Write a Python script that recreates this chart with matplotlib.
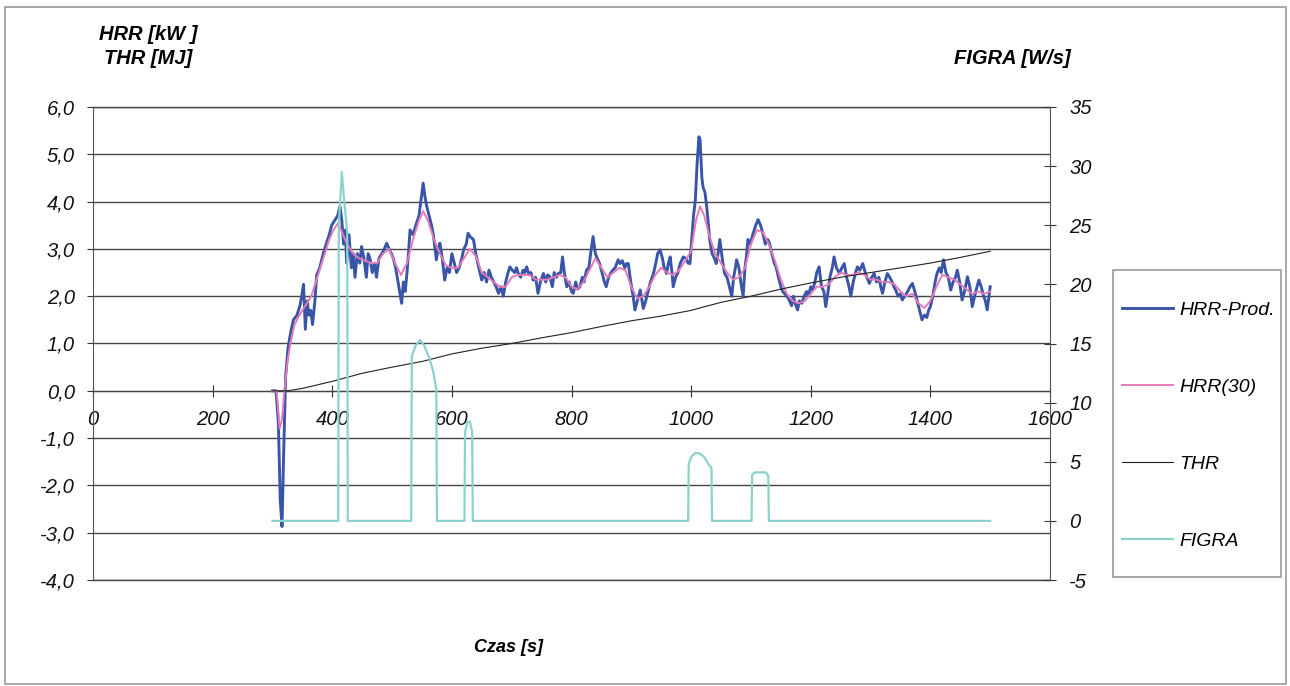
import numpy as np
import matplotlib
matplotlib.use("Agg")
import matplotlib.pyplot as plt
from matplotlib.ticker import FuncFormatter, MultipleLocator
from matplotlib.patches import Rectangle

plt.rcParams['font.family'] = ['Liberation Sans', 'DejaVu Sans']

# HRR-Prod. [kW] (blue, left axis)
t_hrr = [300, 306, 310, 313, 316, 319, 322, 326, 330, 335, 341, 346, 349, 352, 355, 358, 361, 364, 367, 371,
         374, 379, 385, 391, 395, 399, 404, 409, 413, 416, 419, 422, 424, 428, 432, 435, 438, 442, 446, 449,
         453, 457, 460, 463, 467, 471, 474, 478, 483, 487, 491, 495, 499, 502, 506, 510, 514, 516, 519, 522,
         525, 528, 530, 535, 541, 545, 549, 552, 555, 558, 562, 566, 569, 572, 574, 577, 580, 584, 588, 592,
         596, 600, 604, 608, 612, 616, 620, 624, 627, 631, 636, 640, 645, 650, 654, 658, 662, 666, 670, 674,
         678, 682, 686, 690, 694, 697, 701, 705, 708, 711, 715, 719, 722, 725, 729, 732, 736, 740, 744, 748,
         753, 757, 760, 764, 768, 771, 775, 778, 782, 785, 788, 792, 796, 800, 803, 807, 810, 814, 818, 821,
         825, 829, 832, 836, 840, 843, 847, 851, 855, 858, 862, 866, 869, 873, 878, 881, 885, 889, 892, 895,
         899, 903, 906, 910, 915, 920, 924, 928, 932, 937, 941, 944, 948, 952, 955, 959, 962, 965, 968, 970,
         974, 978, 982, 987, 991, 995, 998, 1001, 1004, 1007, 1010, 1013, 1015, 1018, 1020, 1023, 1026, 1029, 1031, 1035,
         1039, 1042, 1045, 1048, 1051, 1053, 1056, 1060, 1064, 1068, 1071, 1074, 1076, 1080, 1083, 1087, 1090, 1093, 1095, 1099,
         1103, 1108, 1112, 1116, 1120, 1124, 1128, 1131, 1135, 1139, 1142, 1146, 1150, 1153, 1156, 1160, 1164, 1168, 1171, 1174,
         1178, 1181, 1185, 1189, 1193, 1196, 1200, 1203, 1207, 1210, 1214, 1218, 1222, 1225, 1229, 1232, 1236, 1239, 1243, 1248,
         1252, 1256, 1260, 1264, 1267, 1271, 1275, 1278, 1282, 1287, 1291, 1294, 1298, 1302, 1306, 1310, 1314, 1317, 1320, 1324,
         1328, 1332, 1336, 1339, 1342, 1346, 1350, 1353, 1357, 1362, 1366, 1370, 1374, 1378, 1382, 1386, 1390, 1394, 1397, 1400,
         1404, 1408, 1411, 1415, 1418, 1422, 1426, 1430, 1434, 1438, 1442, 1445, 1449, 1453, 1457, 1462, 1466, 1470, 1474, 1478,
         1481, 1485, 1489, 1492, 1495, 1498, 1500]
hrr_prod = [0, 0, -0.7, -2.3, -2.87, -1.2, 0.3, 0.9, 1.2, 1.5, 1.6, 1.8, 2.0, 2.25, 1.3, 1.9, 1.6, 1.7, 1.4, 1.9,
            2.45, 2.6, 2.9, 3.15, 3.3, 3.5, 3.6, 3.7, 3.9, 3.6, 3.1, 3.4, 2.7, 3.3, 2.6, 2.9, 2.4, 2.9, 2.7, 3.05,
            2.8, 2.4, 2.9, 2.8, 2.5, 2.7, 2.4, 2.8, 2.9, 3.0, 3.12, 3.0, 2.9, 2.8, 2.6, 2.3, 2.0, 1.85, 2.3, 2.1,
            2.5, 3.0, 3.4, 3.3, 3.55, 3.7, 4.1, 4.39, 4.1, 3.9, 3.7, 3.5, 3.3, 3.0, 2.77, 3.0, 3.12, 2.8, 2.34, 2.6,
            2.5, 2.9, 2.7, 2.5, 2.6, 2.77, 3.0, 3.1, 3.33, 3.25, 3.2, 2.9, 2.6, 2.34, 2.5, 2.3, 2.55, 2.4, 2.3, 2.2,
            2.06, 2.2, 2.0, 2.3, 2.5, 2.62, 2.55, 2.5, 2.6, 2.48, 2.4, 2.55, 2.5, 2.62, 2.45, 2.5, 2.34, 2.4, 2.06, 2.3,
            2.48, 2.3, 2.45, 2.41, 2.2, 2.5, 2.4, 2.48, 2.5, 2.83, 2.5, 2.2, 2.3, 2.1, 2.06, 2.3, 2.15, 2.2, 2.4, 2.3,
            2.55, 2.6, 2.9, 3.26, 2.9, 2.8, 2.69, 2.5, 2.3, 2.2, 2.4, 2.5, 2.55, 2.6, 2.77, 2.69, 2.75, 2.6, 2.69, 2.69,
            2.3, 2.0, 1.71, 1.9, 2.13, 1.74, 1.9, 2.1, 2.3, 2.48, 2.7, 2.9, 2.98, 2.8, 2.6, 2.48, 2.7, 2.83, 2.5, 2.2,
            2.4, 2.5, 2.7, 2.83, 2.8, 2.7, 2.69, 3.2, 3.7, 4.03, 4.8, 5.37, 5.3, 4.5, 4.3, 4.2, 3.9, 3.5, 3.2, 2.9,
            2.8, 2.69, 2.9, 3.2, 2.9, 2.7, 2.48, 2.4, 2.2, 2.0, 2.4, 2.6, 2.77, 2.6, 2.3, 2.0, 2.6, 2.9, 3.2, 3.1,
            3.3, 3.5, 3.62, 3.5, 3.33, 3.1, 3.2, 3.12, 2.9, 2.7, 2.62, 2.4, 2.2, 2.1, 2.06, 2.0, 1.92, 1.8, 2.0, 1.85,
            1.71, 1.9, 1.85, 2.0, 2.1, 2.0, 2.2, 2.13, 2.3, 2.5, 2.62, 2.2, 2.1, 1.78, 2.1, 2.4, 2.6, 2.83, 2.6, 2.48,
            2.6, 2.69, 2.4, 2.2, 2.0, 2.3, 2.5, 2.62, 2.55, 2.69, 2.5, 2.4, 2.27, 2.4, 2.48, 2.3, 2.4, 2.2, 2.06, 2.3,
            2.48, 2.4, 2.3, 2.2, 2.13, 2.0, 2.05, 1.92, 2.0, 2.1, 2.2, 2.27, 2.1, 1.9, 1.7, 1.5, 1.6, 1.55, 1.7, 1.78,
            2.0, 2.3, 2.48, 2.6, 2.5, 2.77, 2.5, 2.4, 2.13, 2.3, 2.4, 2.55, 2.3, 1.92, 2.1, 2.41, 2.2, 1.78, 2.0, 2.2,
            2.34, 2.2, 2.0, 1.9, 1.71, 2.0, 2.2]

# HRR(30) [kW] (pink, left axis)
t_hrr30 = [300, 307, 312, 316, 320, 325, 330, 337, 345, 355, 365, 375, 385, 395, 402, 410, 418, 425, 435, 445,
           455, 465, 475, 485, 495, 505, 515, 525, 535, 545, 552, 560, 570, 580, 590, 600, 610, 620, 630, 640,
           650, 660, 670, 680, 690, 700, 710, 720, 730, 740, 750, 760, 770, 780, 790, 800, 810, 820, 830, 840,
           850, 860, 870, 880, 890, 900, 910, 920, 930, 940, 950, 960, 970, 980, 990, 1000, 1008, 1015, 1022, 1030,
           1040, 1050, 1060, 1070, 1080, 1090, 1100, 1110, 1120, 1130, 1140, 1150, 1160, 1170, 1180, 1190, 1200, 1210, 1220, 1230,
           1240, 1250, 1260, 1270, 1280, 1290, 1300, 1310, 1320, 1330, 1340, 1350, 1360, 1370, 1380, 1390, 1400, 1410, 1420, 1430,
           1440, 1450, 1460, 1470, 1480, 1490, 1500]
hrr30 = [0, 0, -0.8, -0.6, 0.0, 0.6, 1.0, 1.4, 1.6, 1.8, 2.0, 2.4, 2.8, 3.2, 3.4, 3.55, 3.3, 3.1, 2.9, 2.8,
         2.75, 2.7, 2.7, 2.9, 3.0, 2.7, 2.45, 2.7, 3.2, 3.6, 3.8, 3.6, 3.2, 2.9, 2.65, 2.6, 2.6, 2.8, 3.0, 2.85,
         2.5, 2.4, 2.3, 2.2, 2.2, 2.4, 2.45, 2.45, 2.45, 2.35, 2.35, 2.35, 2.4, 2.45, 2.4, 2.2, 2.15, 2.3, 2.55, 2.8,
         2.6, 2.4, 2.5, 2.6, 2.55, 2.2, 1.95, 2.0, 2.2, 2.45, 2.6, 2.5, 2.45, 2.55, 2.75, 2.95, 3.6, 3.9, 3.7, 3.3,
         2.9, 2.7, 2.5, 2.35, 2.4, 2.6, 3.1, 3.4, 3.35, 3.1, 2.75, 2.35, 2.05, 1.9, 1.85, 1.9, 2.05, 2.2, 2.2, 2.25,
         2.4, 2.5, 2.45, 2.45, 2.5, 2.45, 2.35, 2.35, 2.3, 2.3, 2.25, 2.1, 2.0, 2.05, 1.85, 1.75, 1.9, 2.2, 2.45, 2.4,
         2.35, 2.25, 2.15, 2.05, 2.1, 2.05, 2.1]

# THR [MJ] (black, left axis)
t_thr = [300, 325, 350, 400, 450, 500, 550, 600, 650, 700, 750, 800, 850, 900, 950, 1000, 1020, 1050, 1100, 1150,
         1200, 1250, 1300, 1350, 1400, 1450, 1500]
thr = [0, 0, 0.05, 0.2, 0.37, 0.5, 0.62, 0.78, 0.9, 1.0, 1.12, 1.23, 1.36, 1.48, 1.58, 1.7, 1.77, 1.87, 2.0, 2.15,
       2.28, 2.4, 2.5, 2.6, 2.7, 2.82, 2.95]

# FIGRA [W/s] (cyan, right axis)
t_figra = [300, 410, 411, 416, 420, 425, 426, 532, 533, 539, 547, 554, 562, 569, 574, 575, 621, 622, 626, 630,
           634, 635, 995, 996, 1000, 1007, 1014, 1022, 1030, 1034, 1035, 1101, 1102, 1106, 1125, 1129, 1130, 1500]
figra = [0, 0, 25, 29.5, 27, 24.5, 0, 0, 13.9, 14.8, 15.3, 14.8, 13.8, 12.6, 11.1, 0, 0, 7.5, 8.4, 8.4,
         7.5, 0, 0, 4.8, 5.4, 5.75, 5.7, 5.4, 4.7, 4.5, 0, 0, 3.9, 4.1, 4.1, 3.8, 0, 0]

W, H = 1290, 686
fig = plt.figure(figsize=(W / 100, H / 100), dpi=100)
ax = fig.add_axes([93 / W, 1 - 580 / H, (1050 - 93) / W, (580 - 107) / H])
ax2 = ax.twinx()

# outer frame
fig.patches.append(Rectangle((5 / W, 2 / H), 1281 / W, 677 / H, transform=fig.transFigure,
                             fill=False, edgecolor='#9a9a9a', linewidth=1.2))
# legend frame (drawn separately so the entries can sit close to its left edge)
fig.patches.append(Rectangle((1113 / W, 1 - 577 / H), 168 / W, 307 / H, transform=fig.transFigure,
                             fill=False, edgecolor='#999999', linewidth=1.2))

l1, = ax.plot(t_hrr, hrr_prod, color='#3a55a8', lw=2.1, label='HRR-Prod.', zorder=3)
l2, = ax.plot(t_hrr30, hrr30, color='#e67ab8', lw=1.4, label='HRR(30)', zorder=4)
l3, = ax.plot(t_thr, thr, color='#222222', lw=0.8, label='THR', zorder=4)
l4, = ax2.plot(t_figra, figra, color='#8ad3cc', lw=1.6, label='FIGRA', zorder=5)

ax.set_xlim(0, 1600)
ax.set_ylim(-4, 6)
ax2.set_ylim(-5, 35)
ax.xaxis.set_major_locator(MultipleLocator(200))
ax.yaxis.set_major_locator(MultipleLocator(1))
ax2.yaxis.set_major_locator(MultipleLocator(5))
ax.yaxis.set_major_formatter(FuncFormatter(lambda v, p: f"{v:.1f}".replace('.', ',')))
ax2.yaxis.set_major_formatter(FuncFormatter(lambda v, p: f"{v:.0f}"))

ax.grid(axis='y', color='#444444', lw=1.0)
ax.set_axisbelow(True)
# bottom gridline sits on the frame edge, draw it unclipped
ax.axhline(-4, color='#444444', lw=1.0, clip_on=False, zorder=0.5)
ax.axhline(6, color='#444444', lw=1.0, clip_on=False, zorder=0.5)

ax.spines['bottom'].set_position(('data', 0))
ax.spines['bottom'].set_color('#444444')
ax.spines['top'].set_visible(False)
ax.spines['right'].set_visible(False)
ax.spines['left'].set_color('#555555')
for s in ['top', 'bottom', 'left']:
    ax2.spines[s].set_visible(False)
ax2.spines['right'].set_color('#555555')

ax.tick_params(axis='x', direction='inout', length=9, pad=9, colors='#333333', labelcolor='#111111')
ax.tick_params(axis='y', direction='out', length=4, pad=9, colors='#333333', labelcolor='#111111')
ax2.tick_params(axis='y', direction='inout', length=8, pad=10, colors='#333333', labelcolor='#111111')
for lab in ax.get_xticklabels() + ax.get_yticklabels() + ax2.get_yticklabels():
    lab.set_fontsize(14.5)
    lab.set_fontstyle('italic')

fig.text(148 / W, 1 - 35 / H, 'HRR [kW ]', ha='center', va='center', fontsize=14.5,
         fontweight='bold', fontstyle='italic')
fig.text(148 / W, 1 - 58 / H, 'THR [MJ]', ha='center', va='center', fontsize=14.5,
         fontweight='bold', fontstyle='italic')
fig.text(1012 / W, 1 - 58 / H, 'FIGRA [W/s]', ha='center', va='center', fontsize=14.5,
         fontweight='bold', fontstyle='italic')
fig.text(508 / W, 1 - 648 / H, 'Czas [s]', ha='center', va='center', fontsize=13,
         fontweight='bold', fontstyle='italic')

leg = fig.legend(handles=[l1, l2, l3, l4], loc='upper left',
                 bbox_to_anchor=(1097 / W, 1 - 276 / H), frameon=False,
                 prop=dict(size=14, style='italic'), handlelength=2.6, handletextpad=0.35,
                 labelspacing=3.05, borderpad=1.3, borderaxespad=0)

fig.savefig('out.png', dpi=100)
